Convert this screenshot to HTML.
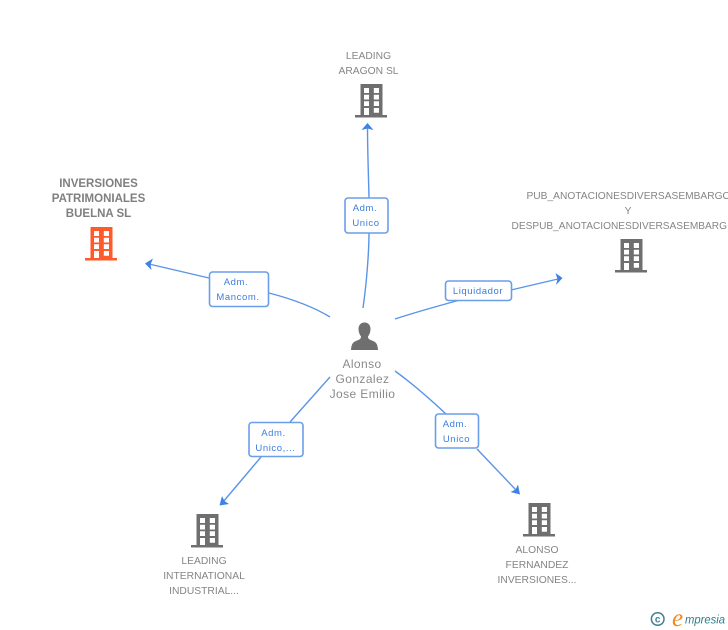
<!DOCTYPE html>
<html><head><meta charset="utf-8"><style>
html,body{margin:0;padding:0;background:#fff;width:728px;height:630px;overflow:hidden}
svg{display:block}
text{font-family:"Liberation Sans",sans-serif}
.n{font-size:10.3px;fill:#858585;text-anchor:middle}
.b{font-size:11.5px;font-weight:bold;fill:#7f7f7f;text-anchor:middle}
.p{font-size:12px;fill:#8a8a8a;text-anchor:middle;letter-spacing:.4px}
.l{font-size:9.5px;fill:#3b7ddd;text-anchor:middle;letter-spacing:.6px}
.e{fill:none;stroke:#5a94e8;stroke-width:1.4}
.a{fill:#3f82e6}
.box{fill:#fff;stroke:#6a9eea;stroke-width:1.6}
</style></head><body>
<svg width="728" height="630" viewBox="0 0 728 630" xmlns="http://www.w3.org/2000/svg">
<defs>
<g id="bd">
<path fill-rule="evenodd" d="M5.5 0H27.5V31H32V33.500H0V31H5.500ZM9 4V9H14V4ZM18.800 4V9H24V4ZM9 10.800V15.500H14V10.800ZM18.800 10.800V15.500H24V10.800ZM9 17.300V22H14V17.300ZM18.800 17.300V22H24V17.300ZM9 24V31H14V24ZM18.800 24V28.800H24V24Z"/>
</g>
</defs>

<path class="e" d="M363 308C367 280 369 250 369 232"/>
<path class="e" d="M369 198C368.500 175 367.500 150 367.500 127"/>
<path class="e" d="M330 317C312 306 292 299 269 293"/>
<path class="e" d="M209 278L149 264"/>
<path class="e" d="M395 319C416 312 438 306 460 300"/>
<path class="e" d="M511 290L558 279"/>
<path class="e" d="M330 377L290 422"/>
<path class="e" d="M261 457L223 502"/>
<path class="e" d="M395 371C413 384 430 399 446 414"/>
<path class="e" d="M477 449L516 490"/>

<polygon class="a" points="367.500,123 373.500,130 367.500,128.500 361.500,130"/>
<polygon class="a" points="145,263.500 153,258.500 150.500,264.500 151.500,270"/>
<polygon class="a" points="562.500,278 555.500,273 557.500,279 556,285"/>
<polygon class="a" points="219.500,505.500 222,496 224.500,501 229,504"/>
<polygon class="a" points="520,494.500 510.500,492 515.500,489.500 518,484.500"/>

<rect class="box" x="345" y="198" width="43" height="35" rx="3"/>
<rect class="box" x="209.500" y="272" width="59" height="34.500" rx="3"/>
<rect class="box" x="445.500" y="281" width="66" height="19.500" rx="3"/>
<rect class="box" x="249" y="422.500" width="54" height="34" rx="3"/>
<rect class="box" x="435.500" y="414" width="43" height="34" rx="3"/>

<text class="l" x="365" y="211">Adm.</text>
<text class="l" x="366" y="226">Unico</text>
<text class="l" x="236" y="285">Adm.</text>
<text class="l" x="238" y="300">Mancom.</text>
<text class="l" x="478" y="294">Liquidador</text>
<text class="l" x="273.500" y="436">Adm.</text>
<text class="l" x="275.500" y="451">Unico,...</text>
<text class="l" x="455" y="427">Adm.</text>
<text class="l" x="456.500" y="442">Unico</text>

<use href="#bd" x="355" y="84" fill="#6f6f6f"/>
<use href="#bd" x="85" y="227" fill="#ff5a2b"/>
<use href="#bd" x="615" y="239" fill="#6f6f6f"/>
<use href="#bd" x="191" y="514" fill="#6f6f6f"/>
<use href="#bd" x="523" y="503" fill="#6f6f6f"/>

<path fill="#6f6f6f" d="M364.500 322.500C368.500 322.500 370.500 325.500 370.500 329C370.500 332 369.500 334.500 368 336.500C368 338.500 369 339.500 372 340.500C376 342 377.500 343.500 378 350H351C351.500 343.500 353 342 357 340.500C360 339.500 361 338.500 361 336.500C359.500 334.500 358.500 332 358.500 329C358.500 325.500 360.500 322.500 364.500 322.500Z"/>

<text class="n" x="368.500" y="59">LEADING</text>
<text class="n" x="368.500" y="74">ARAGON SL</text>

<text class="b" x="98.500" y="187">INVERSIONES</text>
<text class="b" x="98.500" y="202">PATRIMONIALES</text>
<text class="b" x="98.500" y="217">BUELNA SL</text>

<text class="n" x="526.500" y="199" style="text-anchor:start" textLength="204" lengthAdjust="spacingAndGlyphs">PUB_ANOTACIONESDIVERSASEMBARGO</text>
<text class="n" x="628" y="214">Y</text>
<text class="n" x="511.500" y="229" style="text-anchor:start" textLength="215.500" lengthAdjust="spacingAndGlyphs">DESPUB_ANOTACIONESDIVERSASEMBARG</text>

<text class="p" x="362" y="368">Alonso</text>
<text class="p" x="362.500" y="383">Gonzalez</text>
<text class="p" x="362.500" y="398">Jose Emilio</text>

<text class="n" x="204" y="564">LEADING</text>
<text class="n" x="204" y="579">INTERNATIONAL</text>
<text class="n" x="204" y="594">INDUSTRIAL...</text>

<text class="n" x="537" y="553">ALONSO</text>
<text class="n" x="537" y="568">FERNANDEZ</text>
<text class="n" x="537" y="583">INVERSIONES...</text>

<circle cx="657.700" cy="619" r="6.300" fill="none" stroke="#3f7f93" stroke-width="1.5"/>
<text x="657.700" y="622.500" font-size="10" text-anchor="middle" fill="#3f7f93" font-weight="bold">c</text>
<text x="672" y="626" font-size="25" fill="#f08a1c" style="font-family:'Liberation Serif',serif;font-style:italic">e</text>
<text x="685" y="623.500" font-size="11.500" fill="#2f7d8c" font-style="italic" textLength="40" lengthAdjust="spacingAndGlyphs">mpresia</text>
</svg>
</body></html>
